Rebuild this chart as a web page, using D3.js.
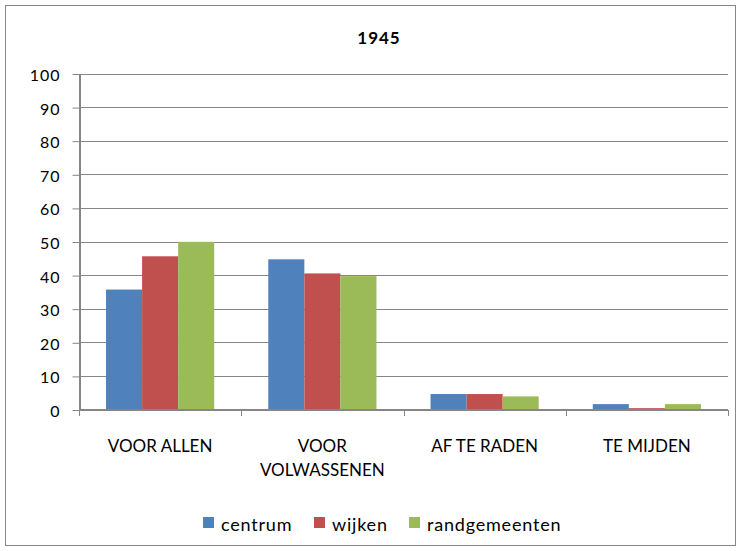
<!DOCTYPE html>
<html>
<head>
<meta charset="utf-8">
<script src="https://cdn.jsdelivr.net/npm/d3@7"></script>
<style>
  body { margin: 0; background: #fff; }
  svg { display: block; font-family: Lato, "Open Sans", sans-serif; }
</style>
</head>
<body>
<svg id="chart" width="741" height="551"></svg>
<script>
// Chart data
const categories = [["VOOR ALLEN"], ["VOOR", "VOLWASSENEN"], ["AF TE RADEN"], ["TE MIJDEN"]];
const seriesNames = ["centrum", "wijken", "randgemeenten"];
const centrum = [35.7, 44.7, 4.6, 1.6];
const wijken = [45.6, 40.5, 4.6, 0.4];
const randgemeenten = [49.9, 39.7, 3.9, 1.6];
const yTicks = [0, 10, 20, 30, 40, 50, 60, 70, 80, 90, 100];
const colors = ["#4f81bd", "#c0504d", "#9bbb59"];
const title = "1945";

const series = [centrum, wijken, randgemeenten];

const svg = d3.select("#chart");
const axisColor = "#868686";

// outer frame
svg.append("rect")
  .attr("x", 5.5).attr("y", 5.5).attr("width", 730).attr("height", 540)
  .attr("fill", "#fff").attr("stroke", axisColor).attr("stroke-width", 1);

const plot = { left: 79, right: 728, top: 73.5, bottom: 409.5 };

const x = d3.scaleBand()
  .domain(d3.range(categories.length))
  .range([plot.left, plot.right])
  .paddingInner(0).paddingOuter(0);

// three bars per group, with a gap of 1.5 bar widths
const barW = x.bandwidth() / 4.5;
const xs = d3.scaleBand()
  .domain(d3.range(series.length))
  .range([barW * 0.75, x.bandwidth() - barW * 0.75]);

const y = d3.scaleLinear().domain([0, 100]).range([plot.bottom, plot.top]);

// gridlines
svg.append("g")
  .selectAll("line")
  .data(yTicks.filter(d => d > 0))
  .join("line")
  .attr("x1", plot.left).attr("x2", plot.right)
  .attr("y1", d => Math.round(y(d)) + 0.5).attr("y2", d => Math.round(y(d)) + 0.5)
  .attr("stroke", axisColor).attr("stroke-width", 1);

// bars
const groups = svg.append("g")
  .selectAll("g")
  .data(categories.map((c, i) => i))
  .join("g")
  .attr("transform", i => `translate(${x(i)},0)`);

groups.selectAll("rect")
  .data(i => series.map((s, k) => ({ k, v: s[i] })))
  .join("rect")
  .attr("x", d => xs(d.k))
  .attr("width", xs.bandwidth())
  .attr("y", d => y(d.v))
  .attr("height", d => y(0) - y(d.v))
  .attr("fill", d => colors[d.k]);

// y axis
const yAxis = svg.append("g")
  .attr("transform", `translate(${plot.left + 0.5},0.5)`)
  .call(d3.axisLeft(y).tickValues(yTicks).tickSize(7).tickPadding(12).tickSizeOuter(0));
yAxis.select(".domain").attr("stroke", axisColor).attr("stroke-width", 2);
yAxis.selectAll(".tick line").attr("stroke", axisColor).attr("stroke-width", 1);
yAxis.selectAll(".tick text")
  .attr("fill", "#000").attr("font-size", 16).attr("font-family", "Lato, sans-serif")
  .attr("letter-spacing", 1)
  .attr("dy", "0.4em");

// x axis
const xAxis = svg.append("g")
  .attr("transform", `translate(0,${plot.bottom + 0.5})`);
xAxis.append("line")
  .attr("x1", plot.left).attr("x2", plot.right)
  .attr("stroke", axisColor).attr("stroke-width", 2);
const boundaries = d3.range(categories.length + 1).map(i => i < categories.length ? x(i) : x(i - 1) + x.bandwidth());
xAxis.selectAll("line.tick")
  .data(boundaries)
  .join("line")
  .attr("class", "tick")
  .attr("x1", d => Math.round(d) + 0.5).attr("x2", d => Math.round(d) + 0.5)
  .attr("y1", 0).attr("y2", 6)
  .attr("stroke", axisColor).attr("stroke-width", 1);

const labels = xAxis.selectAll("text.cat")
  .data(categories)
  .join("text")
  .attr("class", "cat")
  .attr("x", (d, i) => x(i) + x.bandwidth() / 2)
  .attr("y", 41.5)
  .attr("text-anchor", "middle")
  .attr("font-size", 17)
  .attr("fill", "#000");
labels.selectAll("tspan")
  .data(d => d)
  .join("tspan")
  .attr("x", function () { return d3.select(this.parentNode).attr("x"); })
  .attr("dy", (d, j) => j === 0 ? 0 : 24)
  .text(d => d);

// title
svg.append("text")
  .attr("x", 379).attr("y", 44)
  .attr("text-anchor", "middle")
  .attr("font-size", 17).attr("font-weight", "bold")
  .attr("letter-spacing", 1)
  .text(title);

// legend
const legendX = [203, 314, 409];
const legend = svg.append("g")
  .selectAll("g")
  .data(seriesNames)
  .join("g")
  .attr("transform", (d, i) => `translate(${legendX[i]},517)`);
legend.append("rect")
  .attr("width", 11).attr("height", 11)
  .attr("fill", (d, i) => colors[i]);
legend.append("text")
  .attr("x", 18).attr("y", 14)
  .attr("font-size", 18)
  .attr("letter-spacing", 0.8)
  .attr("fill", "#000")
  .text(d => d);
</script>
</body>
</html>
